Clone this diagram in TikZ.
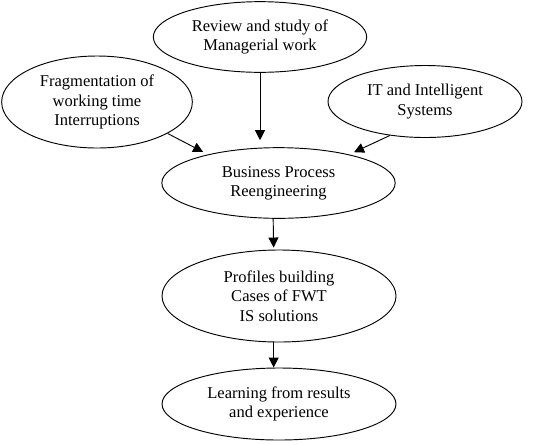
\documentclass[tikz,border=0pt]{standalone}
\usepackage{fontspec}
\setmainfont{Liberation Serif}
\usetikzlibrary{shapes.geometric}
\usetikzlibrary{arrows.meta}

\begin{document}
\begin{tikzpicture}[x=0.75pt,y=-0.75pt,
  oval/.style={ellipse,draw,line width=0.7pt,inner sep=0pt,align=center,
    font=\fontsize{12.4}{14.5}\selectfont},
  arr/.style={-{Triangle[length=7.5pt,width=7.5pt]},line width=0.7pt}]
 \useasboundingbox (0,0) rectangle (549,444);
 \node[oval,minimum width=160pt,minimum height=53pt] (Rev) at (260,37) {Review and study of\\Managerial work};
 \node[oval,minimum width=143pt,minimum height=69pt] (Frag) at (97,102) {Fragmentation of\\working time\\Interruptions};
 \node[oval,minimum width=145.5pt,minimum height=54pt] (IT) at (425,101.5) {IT and Intelligent\\Systems};
 \node[oval,minimum width=175pt,minimum height=53pt] (BPR) at (278.5,183) {Business Process\\Reengineering};
 \node[oval,minimum width=175.5pt,minimum height=69pt] (Prof) at (279,296) {Profiles building\\Cases of FWT\\IS solutions};
 \node[oval,minimum width=175.5pt,minimum height=54pt] (Learn) at (279,404) {Learning from results\\and experience};
 \draw [arr,shorten >=5.25pt] (Rev.south) -- (Rev.south |- BPR.north);
 \draw [arr,shorten >=4pt] (Frag.-24) -- (BPR.158);
 \draw [arr,shorten >=4pt] (IT.224) -- (BPR.22);
 \draw [arr,shorten >=1.5pt] ([xshift=-4pt]BPR.south) -- ([xshift=-4pt]Prof.north);
 \draw [arr] ([xshift=-4pt]Prof.south) -- ([xshift=-4pt]Learn.north);
\end{tikzpicture}
\end{document}
